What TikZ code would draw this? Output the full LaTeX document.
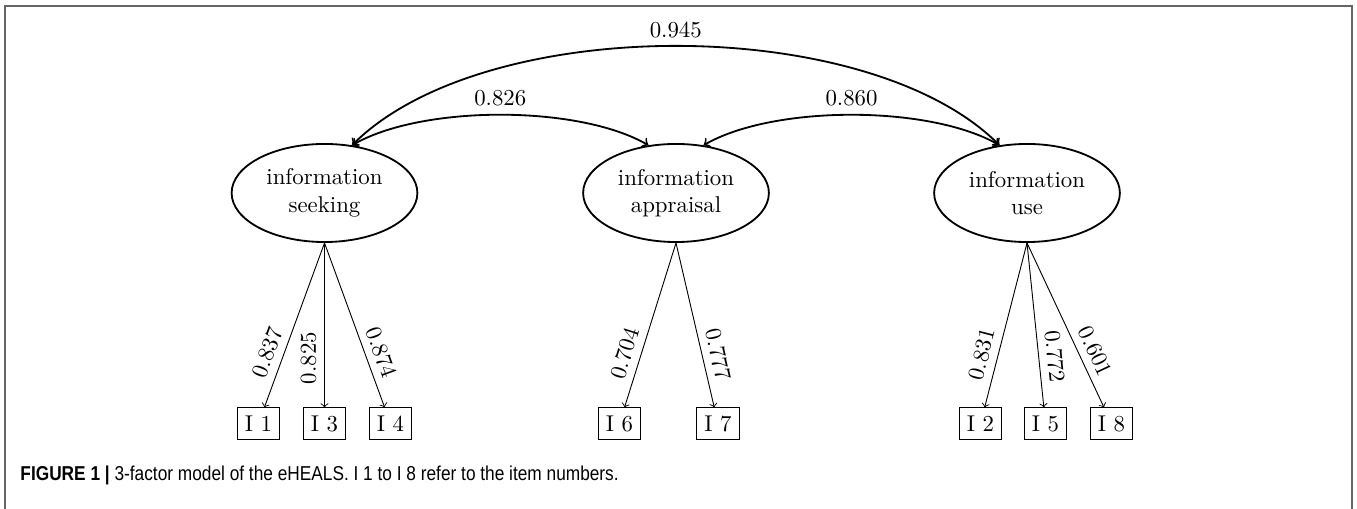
\documentclass[tikz,border=0pt]{standalone}
\usepackage{fontspec}
\usetikzlibrary{shapes.geometric}
\newfontfamily\capfont{Liberation Sans}
\tikzset{
	factor/.style={ellipse, draw, thick, align=center, inner sep=0pt, minimum width=2.86cm, minimum height=1.51cm},
	item/.style={rectangle, draw, inner sep=0pt, minimum width=0.66cm, minimum height=0.48cm},
	loading/.style={->},
	cov/.style={<->, thick}
}

\begin{document}
\begin{tikzpicture}[x=0.0154cm, y=0.0154cm]
		%%%%% FRAME %%%%%
		\useasboundingbox (0,0) rectangle (1357,-509);
		\draw[black!60, line width=0.8pt] (5,-509) -- (5,-6) -- (1352,-6) -- (1352,-509);
		
		%%%%% FACTORS %%%%%
		\node[factor] (seek) at (324.5,-193) {information\\seeking};
		\node[factor] (appr) at (676,-193) {information\\appraisal};
		\node[factor] (use) at (1027,-193) {information\\use};
		
		\draw[cov] (seek.60) to[bend left=30, looseness=0.7] node[above] {0.826} (appr.120);
		\draw[cov] (appr.60) to[bend left=30, looseness=0.7] node[above] {0.860} (use.120);
		\draw[cov] (seek.60) to[bend left=45, looseness=0.74] node[above] {0.945} (use.120);
		
		%%%%% ITEMS %%%%%
		\node[item] (i1) at (258.5,-423.5) {I 1};
		\node[item] (i3) at (324.5,-423.5) {I 3};
		\node[item] (i4) at (390.5,-423.5) {I 4};
		\node[item] (i6) at (619.5,-423.5) {I 6};
		\node[item] (i7) at (718,-423.5) {I 7};
		\node[item] (i2) at (980.5,-423.5) {I 2};
		\node[item] (i5) at (1045.5,-423.5) {I 5};
		\node[item] (i8) at (1111.5,-423.5) {I 8};
		
		\draw[loading] (seek.south) -- node[pos=0.7, sloped, above] {0.837} (i1);
		\draw[loading] (seek.south) -- node[pos=0.7, rotate=90, anchor=south] {0.825} (i3);
		\draw[loading] (seek.south) -- node[pos=0.7, sloped, above] {0.874} (i4);
		\draw[loading] (appr.south) -- node[pos=0.7, sloped, above] {0.704} (i6);
		\draw[loading] (appr.south) -- node[pos=0.7, sloped, above] {0.777} (i7);
		\draw[loading] (use.south) -- node[pos=0.7, sloped, above] {0.831} (i2);
		\draw[loading] (use.south) -- node[pos=0.7, sloped, above] {0.772} (i5);
		\draw[loading] (use.south) -- node[pos=0.7, sloped, above] {0.601} (i8);
		
		%%%%% CAPTION %%%%%
		\node[anchor=west, inner sep=0pt, font=\capfont\fontsize{8.8}{10}\selectfont] (caption) at (20,-475)
			{\scalebox{0.86}[1]{\textbf{FIGURE 1} \textbf{|} 3-factor model of the eHEALS. I 1 to I 8 refer to the item numbers.}};
	\end{tikzpicture}
\end{document}
